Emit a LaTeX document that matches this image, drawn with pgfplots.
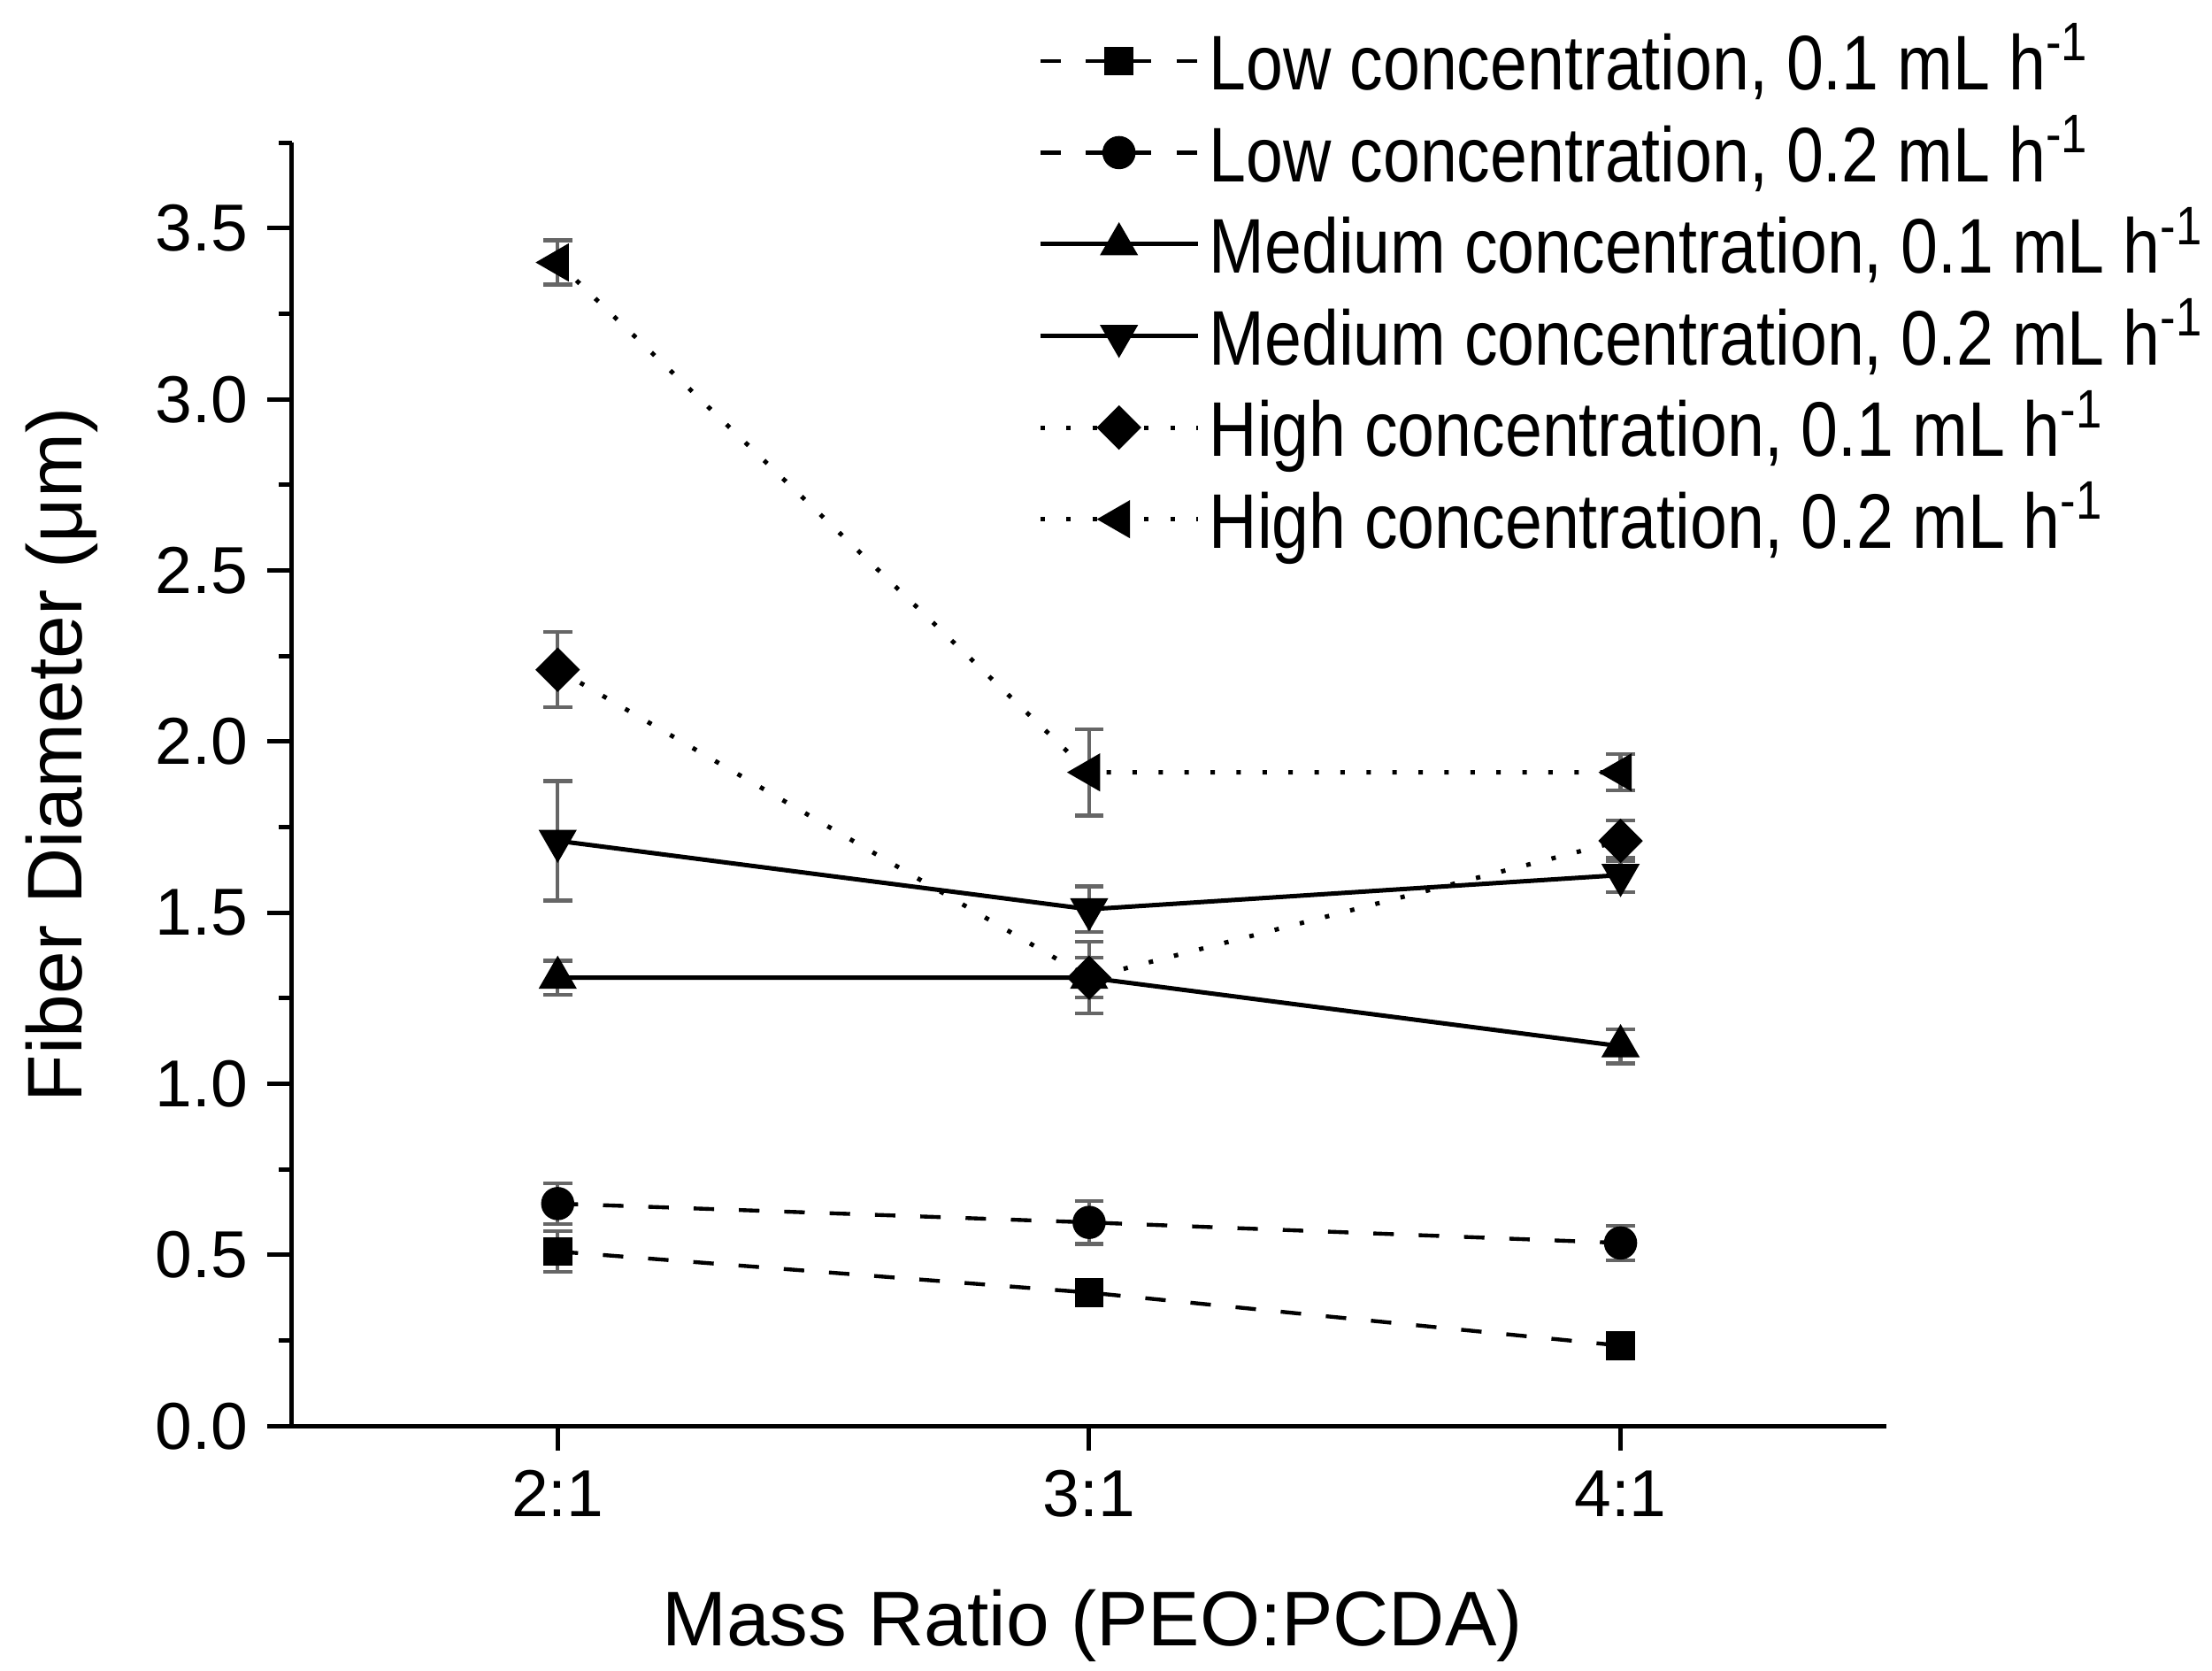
\documentclass[border=0pt]{standalone}
\usepackage{fontspec}
\setmainfont{Liberation Sans}
\newfontfamily\legfont[FakeStretch=0.86]{Liberation Sans}
\usepackage{pgfplots}
\pgfplotsset{compat=1.18}

\newcommand\ls{\rule[-4.4pt]{0pt}{15.4pt}}

\begin{document}
\begin{tikzpicture}
\begin{axis}[
    at={(0,0)}, anchor=south west,
    width=288.3pt, height=232pt, scale only axis,
    xmin=0.5, xmax=3.5, ymin=0, ymax=3.75,
    axis x line*=bottom, axis y line*=left,
    axis line style={line width=0.8pt, -},
    xtick={1,2,3}, xticklabels={2:1,3:1,4:1},
    ytick={0,0.5,...,3.5},
    minor ytick={0.25,0.75,...,3.75},
    tick align=outside,
    major tick length=4.5pt, minor tick length=2.4pt,
    every tick/.style={black, line width=0.8pt},
    /pgf/number format/assume math mode=true,
    yticklabel style={/pgf/number format/.cd, fixed, fixed zerofill, precision=1},
    ticklabel style={font=\fontsize{12}{14}\selectfont},
    label style={font=\fontsize{14}{17}\selectfont},
    xlabel={Mass Ratio (PEO:PCDA)},
    ylabel={Fiber Diameter (μm)},
    xlabel style={at={(axis description cs:0.502,-0.171)}, anchor=base},
    ylabel style={at={(axis description cs:-0.132,0.523)}, anchor=base},
    legend style={draw=none, fill=none, at={(0.468,1.0927)}, anchor=north west,
        inner sep=0pt, outer sep=0pt, row sep=3.1pt, column sep=1.7pt,
        font=\legfont\fontsize{14}{16}\selectfont, nodes={inner sep=0pt}},
    legend cell align=left,
    legend image code/.code={\draw[mark repeat=2, mark phase=2, #1] plot coordinates {(0cm,0cm) (0.5cm,0cm) (1cm,0cm)};},
    error bars/y dir=both, error bars/y explicit,
    error bars/error bar style={solid, line width=0.7pt, black!60},
    error bars/error mark options={solid, rotate=90, mark size=2.6pt, line width=0.7pt, black!60},
]

% low concentration
\addplot[black, line width=0.7pt, dash pattern=on 3.7pt off 4.5pt,
    mark=square*, mark size=2.25pt, mark options={solid}]
    coordinates {(1,0.51) +- (0,0.06) (2,0.39) +- (0,0.02) (3,0.235) +- (0,0.02)};
\addplot[black, line width=0.7pt, dash pattern=on 3.7pt off 4.5pt,
    mark=*, mark size=2.65pt, mark options={solid}]
    coordinates {(1,0.65) +- (0,0.06) (2,0.595) +- (0,0.063) (3,0.535) +- (0,0.05)};

% medium concentration
\addplot[black, line width=0.8pt, mark=triangle*, mark size=3.2pt, mark options={solid}]
    coordinates {(1,1.31) +- (0,0.05) (2,1.31) +- (0,0.105) (3,1.11) +- (0,0.05)};
\addplot[black, line width=0.8pt, mark=triangle*, mark size=3.2pt, mark options={solid, rotate=180}]
    coordinates {(1,1.71) +- (0,0.175) (2,1.51) +- (0,0.067) (3,1.61) +- (0,0.05)};

% high concentration
\addplot[black, line width=0.8pt, dash pattern=on 0.8pt off 3.9pt,
    mark=square*, mark size=2.45pt, mark options={solid, rotate=45}]
    coordinates {(1,2.21) +- (0,0.11) (2,1.31) +- (0,0.058) (3,1.71) +- (0,0.06)};
\addplot[black, line width=0.8pt, dash pattern=on 0.8pt off 3.9pt,
    mark=triangle*, mark size=3.2pt, mark options={solid, rotate=90}]
    coordinates {(1,3.40) +- (0,0.065) (2,1.91) +- (0,0.126) (3,1.91) +- (0,0.053)};

\legend{{\ls Low concentration, 0.1 mL h\textsuperscript{-1}},
        {\ls Low concentration, 0.2 mL h\textsuperscript{-1}},
        {\ls Medium concentration, 0.1 mL h\textsuperscript{-1}},
        {\ls Medium concentration, 0.2 mL h\textsuperscript{-1}},
        {\ls High concentration, 0.1 mL h\textsuperscript{-1}},
        {\ls High concentration, 0.2 mL h\textsuperscript{-1}}}
\end{axis}
\pgfresetboundingbox
\path[use as bounding box] (-52.8pt,-44.2pt) rectangle (347.2pt,257.8pt);
\end{tikzpicture}
\end{document}
